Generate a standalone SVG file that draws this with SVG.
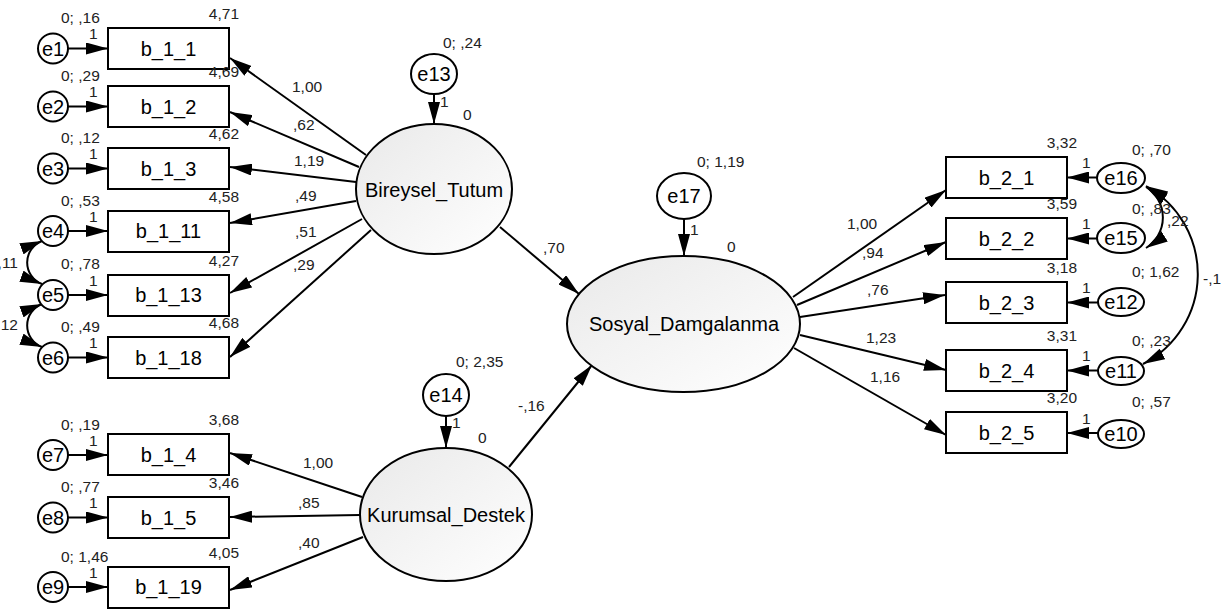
<svg xmlns="http://www.w3.org/2000/svg" width="1232" height="609" viewBox="0 0 1232 609">
<style>
.box{fill:#fff;stroke:#000;stroke-width:2}
.err{fill:#fff;stroke:#000;stroke-width:2}
.lat{fill:url(#lg);stroke:#000;stroke-width:2}
.ln{fill:none;stroke:#000;stroke-width:2;marker-end:url(#ah)}
.cv{fill:none;stroke:#000;stroke-width:2;marker-start:url(#ah);marker-end:url(#ah)}
.t{font-family:"Liberation Sans",Arial,sans-serif;font-size:20px;fill:#000;text-anchor:middle}
.n{font-family:"Liberation Sans",Arial,sans-serif;font-size:15.5px;fill:#222}
.r{text-anchor:end}
</style>
<defs>
<linearGradient id="lg" x1="0" y1="0" x2="1" y2="1">
<stop offset="0" stop-color="#e9e9e9"/>
<stop offset="1" stop-color="#ffffff"/>
</linearGradient>
<marker id="ah" markerUnits="userSpaceOnUse" markerWidth="22" markerHeight="12" viewBox="0 0 22 12" refX="22" refY="6" orient="auto-start-reverse">
<path d="M0,0 L22,6 L0,12 z" fill="#000"/>
</marker>
</defs>
<rect width="1232" height="609" fill="#fff"/>
<g id="connectors">
<line class="ln" x1="68" y1="48.5" x2="108" y2="48.5"/>
<line class="ln" x1="68" y1="106.5" x2="108" y2="106.5"/>
<line class="ln" x1="68" y1="168.5" x2="108" y2="168.5"/>
<line class="ln" x1="68" y1="231" x2="108" y2="231"/>
<line class="ln" x1="68" y1="295" x2="108" y2="295"/>
<line class="ln" x1="68" y1="357.5" x2="108" y2="357.5"/>
<line class="ln" x1="68" y1="455" x2="108" y2="455"/>
<line class="ln" x1="68" y1="517.5" x2="108" y2="517.5"/>
<line class="ln" x1="68" y1="587" x2="108" y2="587"/>
<line class="ln" x1="1097" y1="177.5" x2="1067" y2="177.5"/>
<line class="ln" x1="1097" y1="238.5" x2="1067" y2="238.5"/>
<line class="ln" x1="1098" y1="302.5" x2="1067" y2="302.5"/>
<line class="ln" x1="1098" y1="370.5" x2="1067" y2="370.5"/>
<line class="ln" x1="1098" y1="433" x2="1067" y2="433"/>
<line class="ln" x1="434" y1="94" x2="434" y2="124"/>
<line class="ln" x1="446" y1="416" x2="446" y2="448"/>
<line class="ln" x1="684" y1="219" x2="684" y2="256"/>
<line class="ln" x1="366" y1="155" x2="230" y2="58"/>
<line class="ln" x1="359" y1="167" x2="230" y2="112"/>
<line class="ln" x1="356" y1="182" x2="230" y2="167"/>
<line class="ln" x1="356" y1="201" x2="230" y2="223"/>
<line class="ln" x1="362" y1="219" x2="230" y2="293"/>
<line class="ln" x1="371" y1="230" x2="230" y2="357"/>
<line class="ln" x1="362" y1="497" x2="230" y2="453"/>
<line class="ln" x1="360" y1="515" x2="230" y2="517"/>
<line class="ln" x1="363" y1="537" x2="230" y2="590"/>
<line class="ln" x1="500" y1="227" x2="579" y2="294"/>
<line class="ln" x1="509" y1="467" x2="592" y2="365"/>
<line class="ln" x1="793" y1="297" x2="946" y2="190"/>
<line class="ln" x1="797" y1="305" x2="946" y2="242"/>
<line class="ln" x1="800" y1="317" x2="945" y2="295"/>
<line class="ln" x1="800" y1="335" x2="946" y2="370"/>
<line class="ln" x1="794" y1="348" x2="946" y2="435"/>
<path class="cv" d="M42,241 A23,23 0 0 0 42,284"/>
<path class="cv" d="M42,304 A23,23 0 0 0 42,347"/>
<path class="cv" d="M1146,187 A36,36 0 0 1 1146,248"/>
<path class="cv" d="M1146,186 A101,101 0 0 1 1143,364"/>
<text class="n" x="292" y="92">1,00</text>
<text class="n" x="293" y="130">,62</text>
<text class="n" x="294" y="166">1,19</text>
<text class="n" x="295" y="201">,49</text>
<text class="n" x="295" y="237">,51</text>
<text class="n" x="293" y="270">,29</text>
<text class="n" x="303" y="468">1,00</text>
<text class="n" x="298" y="508">,85</text>
<text class="n" x="298" y="548">,40</text>
<text class="n" x="543" y="253">,70</text>
<text class="n" x="518" y="411">-,16</text>
<text class="n" x="847" y="229">1,00</text>
<text class="n" x="862" y="258">,94</text>
<text class="n" x="867" y="295">,76</text>
<text class="n" x="866" y="343">1,23</text>
<text class="n" x="870" y="382">1,16</text>
<text class="n r" x="18" y="268">,11</text>
<text class="n r" x="18" y="330">,12</text>
<text class="n" x="1167" y="226">,22</text>
<text class="n" x="1203" y="284">-,1</text>
<text class="n" x="89" y="39">1</text>
<text class="n" x="89" y="97">1</text>
<text class="n" x="89" y="159">1</text>
<text class="n" x="89" y="222">1</text>
<text class="n" x="89" y="286">1</text>
<text class="n" x="89" y="348">1</text>
<text class="n" x="89" y="446">1</text>
<text class="n" x="89" y="508">1</text>
<text class="n" x="89" y="578">1</text>
<text class="n" x="1082" y="168">1</text>
<text class="n" x="1082" y="229">1</text>
<text class="n" x="1082" y="293">1</text>
<text class="n" x="1082" y="361">1</text>
<text class="n" x="1082" y="424">1</text>
<text class="n" x="440" y="107">1</text>
<text class="n" x="452" y="428">1</text>
<text class="n" x="690" y="235">1</text>
</g>
<g id="b_1_1"><rect class="box" x="108" y="28" width="121" height="41"/><text class="t" x="168.5" y="56">b_1_1</text><text class="n r" x="239" y="19">4,71</text></g>
<g id="b_1_2"><rect class="box" x="108" y="86" width="121" height="41"/><text class="t" x="168.5" y="114">b_1_2</text><text class="n r" x="239" y="77">4,69</text></g>
<g id="b_1_3"><rect class="box" x="108" y="148" width="121" height="41"/><text class="t" x="168.5" y="176">b_1_3</text><text class="n r" x="239" y="139">4,62</text></g>
<g id="b_1_11"><rect class="box" x="108" y="211" width="121" height="41"/><text class="t" x="168.5" y="238">b_1_11</text><text class="n r" x="239" y="202">4,58</text></g>
<g id="b_1_13"><rect class="box" x="108" y="275" width="121" height="41"/><text class="t" x="168.5" y="302">b_1_13</text><text class="n r" x="239" y="266">4,27</text></g>
<g id="b_1_18"><rect class="box" x="108" y="337" width="121" height="41"/><text class="t" x="168.5" y="365">b_1_18</text><text class="n r" x="239" y="328">4,68</text></g>
<g id="b_1_4"><rect class="box" x="108" y="434" width="121" height="41"/><text class="t" x="168.5" y="462">b_1_4</text><text class="n r" x="239" y="425">3,68</text></g>
<g id="b_1_5"><rect class="box" x="108" y="497" width="121" height="41"/><text class="t" x="168.5" y="525">b_1_5</text><text class="n r" x="239" y="488">3,46</text></g>
<g id="b_1_19"><rect class="box" x="108" y="567" width="121" height="41"/><text class="t" x="168.5" y="594">b_1_19</text><text class="n r" x="239" y="558">4,05</text></g>
<g id="b_2_1"><rect class="box" x="946" y="157" width="121" height="41"/><text class="t" x="1006.5" y="185">b_2_1</text><text class="n r" x="1077" y="148">3,32</text></g>
<g id="b_2_2"><rect class="box" x="946" y="218" width="121" height="41"/><text class="t" x="1006.5" y="246">b_2_2</text><text class="n r" x="1077" y="209">3,59</text></g>
<g id="b_2_3"><rect class="box" x="946" y="282" width="121" height="41"/><text class="t" x="1006.5" y="310">b_2_3</text><text class="n r" x="1077" y="273">3,18</text></g>
<g id="b_2_4"><rect class="box" x="946" y="350" width="121" height="41"/><text class="t" x="1006.5" y="378">b_2_4</text><text class="n r" x="1077" y="341">3,31</text></g>
<g id="b_2_5"><rect class="box" x="946" y="412" width="121" height="41"/><text class="t" x="1006.5" y="440">b_2_5</text><text class="n r" x="1077" y="403">3,20</text></g>
<g id="e1"><circle class="err" cx="53" cy="48.5" r="15"/><text class="t" x="53" y="55.5">e1</text><text class="n" x="61" y="23">0; ,16</text></g>
<g id="e2"><circle class="err" cx="53" cy="106.5" r="15"/><text class="t" x="53" y="113.5">e2</text><text class="n" x="61" y="81">0; ,29</text></g>
<g id="e3"><circle class="err" cx="53" cy="168.5" r="15"/><text class="t" x="53" y="175.5">e3</text><text class="n" x="61" y="143">0; ,12</text></g>
<g id="e4"><circle class="err" cx="53" cy="231" r="15"/><text class="t" x="53" y="238">e4</text><text class="n" x="61" y="206">0; ,53</text></g>
<g id="e5"><circle class="err" cx="53" cy="295" r="15"/><text class="t" x="53" y="302">e5</text><text class="n" x="61" y="269">0; ,78</text></g>
<g id="e6"><circle class="err" cx="53" cy="357.5" r="15"/><text class="t" x="53" y="364.5">e6</text><text class="n" x="61" y="332">0; ,49</text></g>
<g id="e7"><circle class="err" cx="53" cy="455" r="15"/><text class="t" x="53" y="462">e7</text><text class="n" x="61" y="430">0; ,19</text></g>
<g id="e8"><circle class="err" cx="53" cy="517.5" r="15"/><text class="t" x="53" y="524.5">e8</text><text class="n" x="61" y="492">0; ,77</text></g>
<g id="e9"><circle class="err" cx="53" cy="587" r="15"/><text class="t" x="53" y="594">e9</text><text class="n" x="61" y="562">0; 1,46</text></g>
<g id="e16"><ellipse class="err" cx="1121" cy="178" rx="24" ry="15"/><text class="t" x="1121" y="185">e16</text><text class="n" x="1132" y="155">0; ,70</text></g>
<g id="e15"><ellipse class="err" cx="1121" cy="238" rx="24" ry="15"/><text class="t" x="1121" y="245">e15</text><text class="n" x="1132" y="214">0; ,83</text></g>
<g id="e12"><ellipse class="err" cx="1121" cy="302" rx="23" ry="14"/><text class="t" x="1121" y="309">e12</text><text class="n" x="1132" y="277">0; 1,62</text></g>
<g id="e11"><ellipse class="err" cx="1121" cy="371" rx="23" ry="14"/><text class="t" x="1121" y="378">e11</text><text class="n" x="1132" y="346">0; ,23</text></g>
<g id="e10"><ellipse class="err" cx="1121" cy="434" rx="23" ry="14"/><text class="t" x="1121" y="441">e10</text><text class="n" x="1132" y="407">0; ,57</text></g>
<g id="e13"><ellipse class="err" cx="434" cy="74" rx="23" ry="20"/><text class="t" x="434" y="81">e13</text><text class="n" x="443" y="48">0; ,24</text></g>
<g id="e14"><ellipse class="err" cx="446" cy="395" rx="23" ry="21"/><text class="t" x="446" y="402">e14</text><text class="n" x="456" y="367">0; 2,35</text></g>
<g id="e17"><ellipse class="err" cx="684" cy="196" rx="27" ry="23"/><text class="t" x="684" y="203">e17</text><text class="n" x="697" y="167">0; 1,19</text></g>
<g id="Bireysel_Tutum"><ellipse class="lat" cx="434" cy="189" rx="78" ry="65"/><text class="t" x="434" y="197">Bireysel_Tutum</text><text class="n" x="463" y="120">0</text></g>
<g id="Kurumsal_Destek"><ellipse class="lat" cx="446" cy="514.5" rx="86" ry="66.5"/><text class="t" x="446" y="522">Kurumsal_Destek</text><text class="n" x="478" y="443">0</text></g>
<g id="Sosyal_Damgalanma"><ellipse class="lat" cx="683.5" cy="324" rx="116.5" ry="68"/><text class="t" x="684" y="331">Sosyal_Damgalanma</text><text class="n" x="727" y="252">0</text></g>
</svg>
